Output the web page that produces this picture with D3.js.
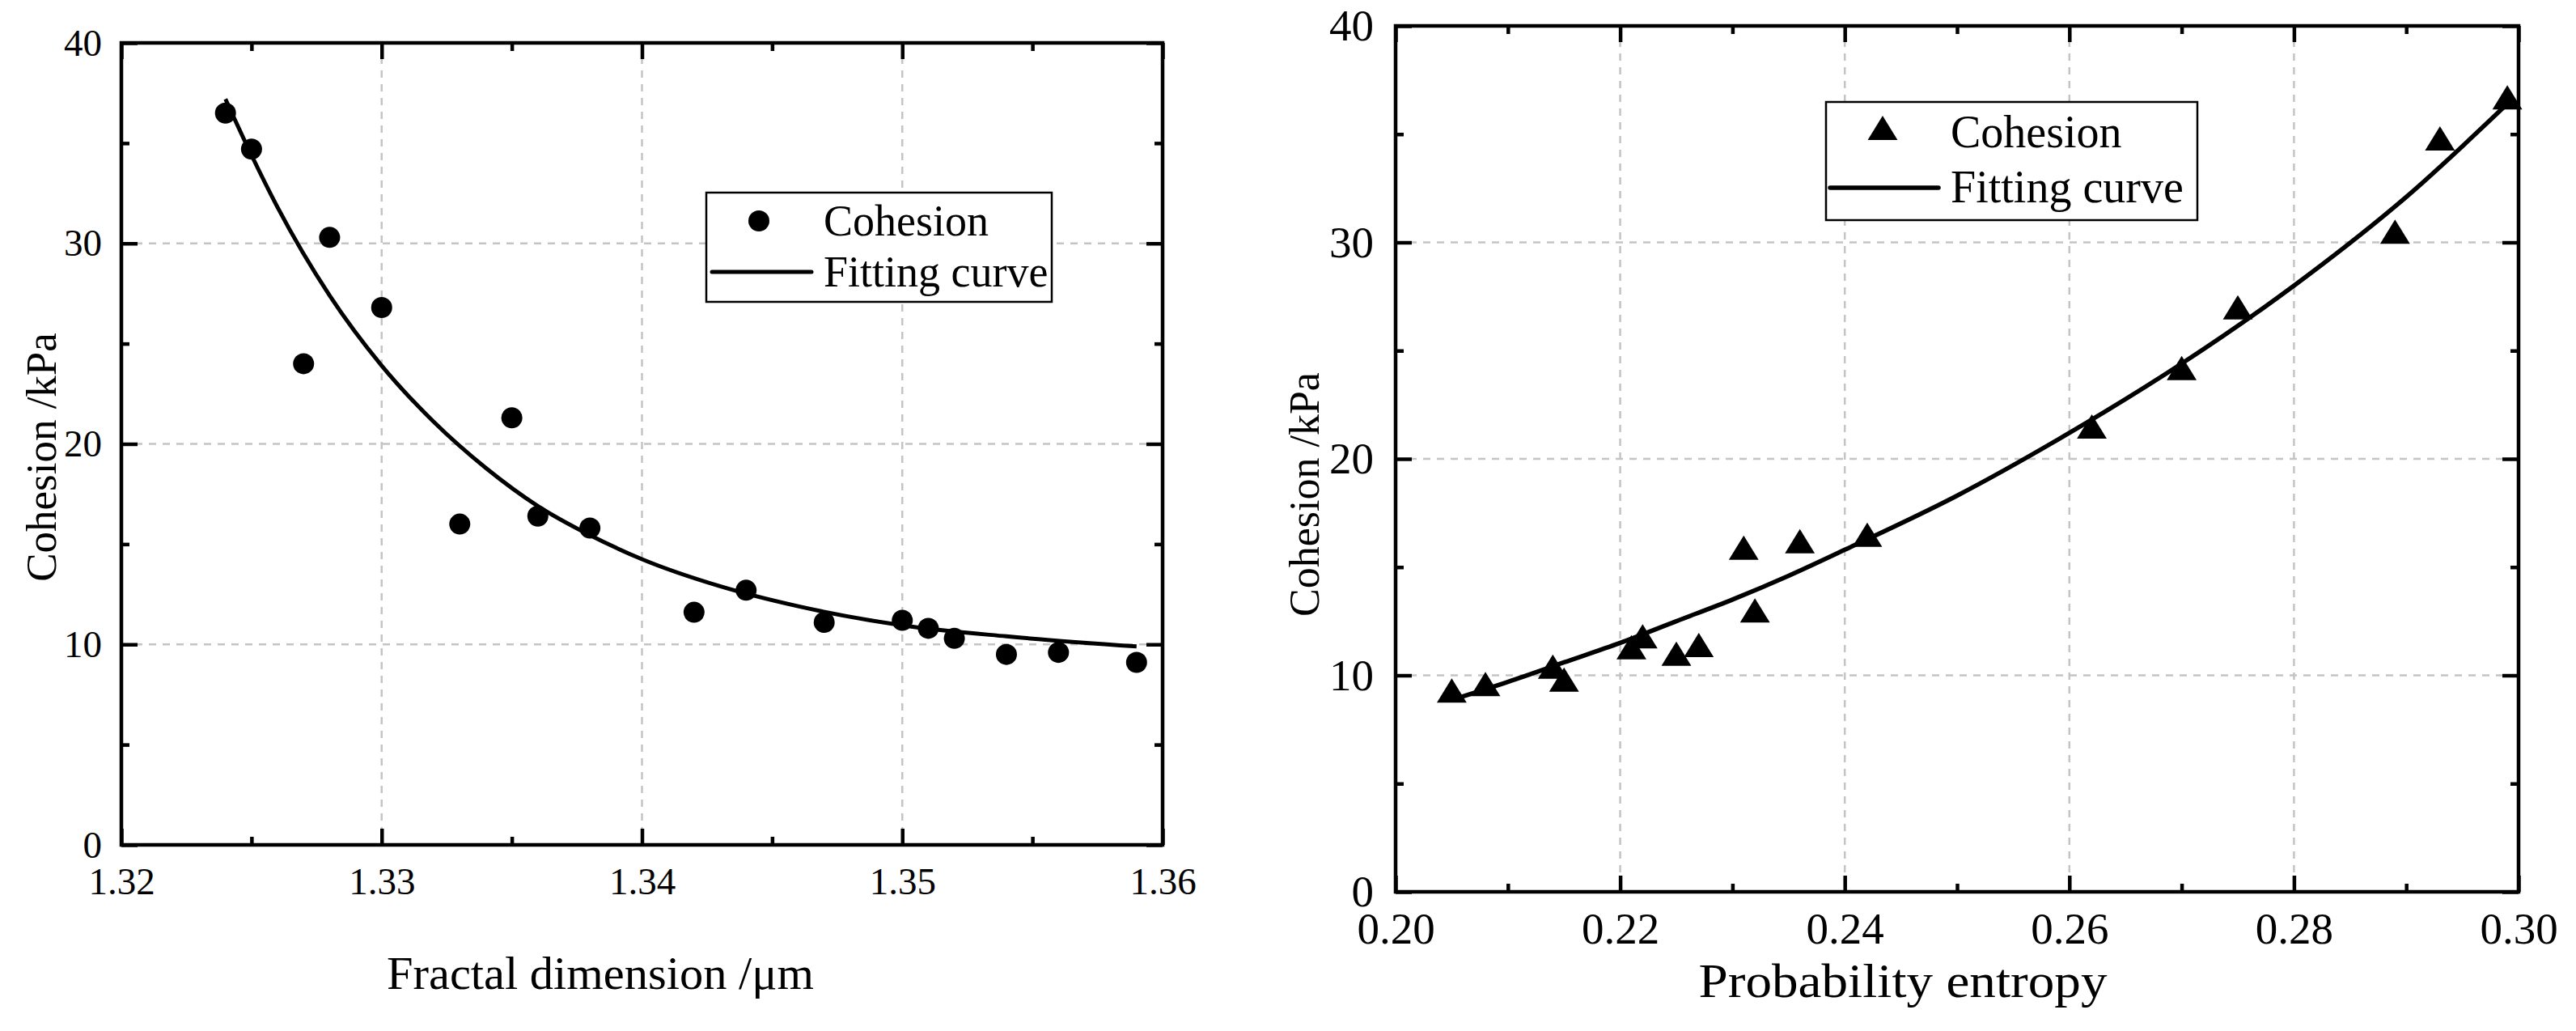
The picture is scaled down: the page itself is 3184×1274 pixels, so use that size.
<!DOCTYPE html>
<html>
<head>
<meta charset="utf-8">
<script src="https://cdn.jsdelivr.net/npm/d3@7"></script>
<style>
  html, body { margin: 0; padding: 0; background: #fff; }
  svg { display: block; }
  text { font-family: "Liberation Serif", "Times New Roman", serif; fill: #000; }
</style>
</head>
<body>
<svg id="chart" width="3184" height="1274"></svg>
<script>
// ---------------- DATA ----------------
// Left panel: Cohesion vs Fractal dimension
const fractalDim = [1.324, 1.325, 1.327, 1.328, 1.330, 1.333, 1.335, 1.336, 1.338,
                    1.342, 1.344, 1.347, 1.350, 1.351, 1.352, 1.354, 1.356, 1.359];
const cohesionA  = [36.5, 34.7, 24.0, 30.3, 26.8, 16.0, 21.3, 16.4, 15.8,
                    11.6, 12.7, 11.1, 11.2, 10.8, 10.3, 9.5, 9.6, 9.1];
const fitAX = [1.324, 1.325, 1.326, 1.328, 1.330, 1.332, 1.334, 1.336, 1.338, 1.340,
               1.343, 1.346, 1.350, 1.354, 1.359];
const fitAY = [37.2, 34.4, 31.8, 27.4, 23.9, 21.1, 18.8, 16.9, 15.45, 14.25,
               12.9, 11.9, 10.95, 10.4, 9.9];
const xTicksA = [1.32, 1.33, 1.34, 1.35, 1.36];
const xTickLabelsA = ["1.32", "1.33", "1.34", "1.35", "1.36"];
const xMinorA = [1.325, 1.335, 1.345, 1.355];

// Right panel: Cohesion vs Probability entropy
const probEntropy = [0.205, 0.208, 0.214, 0.215, 0.221, 0.222, 0.225, 0.227, 0.231,
                     0.232, 0.236, 0.242, 0.262, 0.270, 0.275, 0.289, 0.293, 0.299];
const cohesionB   = [9.3, 9.6, 10.4, 9.8, 11.3, 11.8, 11.0, 11.4, 15.9,
                     13.0, 16.2, 16.5, 21.5, 24.2, 27.0, 30.5, 34.8, 36.7];
const fitBX = [0.2052, 0.210, 0.215, 0.220, 0.225, 0.230, 0.235, 0.240, 0.250,
               0.260, 0.270, 0.280, 0.290, 0.299];
const fitBY = [8.9, 9.7, 10.6, 11.5, 12.5, 13.5, 14.6, 15.8, 18.3,
               21.2, 24.4, 28.0, 32.1, 36.4];
const xTicksB = [0.20, 0.22, 0.24, 0.26, 0.28, 0.30];
const xTickLabelsB = ["0.20", "0.22", "0.24", "0.26", "0.28", "0.30"];
const xMinorB = [0.21, 0.23, 0.25, 0.27, 0.29];

const yTicks = [0, 10, 20, 30, 40];
const yTickLabels = ["0", "10", "20", "30", "40"];
const yMinor = [5, 15, 25, 35];

const seriesName = "Cohesion";
const fitName = "Fitting curve";

// ---------------- DRAW ----------------
const SERIF = '"Liberation Serif", "Times New Roman", serif';
const svg = d3.select("#chart");

// custom triangle symbol (wider than tall, like the reference marker)
const wideTriangle = {
  draw(ctx, size) {
    const w = Math.sqrt(size) * 1.23, h = Math.sqrt(size);
    ctx.moveTo(0, -h / 2);
    ctx.lineTo(w / 2, h / 2);
    ctx.lineTo(-w / 2, h / 2);
    ctx.closePath();
  }
};

function panel(cfg) {
  const g = svg.append("g");
  const x = d3.scaleLinear().domain(cfg.xDomain).range([cfg.left, cfg.right]);
  const y = d3.scaleLinear().domain([0, 40]).range([cfg.bottom, cfg.top]);

  // grid
  const grid = g.append("g").attr("stroke", "#c4c4c4").attr("stroke-width", 2.5)
    .attr("stroke-dasharray", "9,8");
  grid.selectAll(".gx").data(cfg.xTicks.slice(1, -1)).join("line")
    .attr("x1", d => x(d)).attr("x2", d => x(d))
    .attr("y1", cfg.top).attr("y2", cfg.bottom);
  grid.selectAll(".gy").data(yTicks.slice(1, -1)).join("line")
    .attr("x1", cfg.left).attr("x2", cfg.right)
    .attr("y1", d => y(d)).attr("y2", d => y(d));

  // axes (ticks inward on all four sides)
  const tw = cfg.axisWidth;
  function styleAxis(sel) {
    sel.attr("font-family", SERIF).attr("font-size", cfg.tickFont);
    sel.select(".domain").remove();
    sel.selectAll(".tick line").attr("stroke", "#000").attr("stroke-width", tw);
    sel.selectAll(".tick text")
      .attr("font-family", SERIF)
      .style("font-family", SERIF)
      .style("font-size", cfg.tickFont + "px");
  }
  const fmtX = (d) => cfg.xTickLabels[cfg.xTicks.indexOf(d)];
  const fmtY = (d) => yTickLabels[yTicks.indexOf(d)];

  g.append("g").attr("transform", `translate(0,${cfg.bottom})`)
    .call(d3.axisBottom(x).tickValues(cfg.xTicks).tickFormat(fmtX)
      .tickSizeInner(-cfg.major).tickSizeOuter(0).tickPadding(cfg.xPad))
    .call(styleAxis);
  g.append("g").attr("transform", `translate(0,${cfg.bottom})`)
    .call(d3.axisBottom(x).tickValues(cfg.xMinor).tickFormat("")
      .tickSizeInner(-cfg.minor).tickSizeOuter(0))
    .call(styleAxis);
  g.append("g").attr("transform", `translate(0,${cfg.top})`)
    .call(d3.axisTop(x).tickValues(cfg.xTicks).tickFormat("")
      .tickSizeInner(-cfg.major).tickSizeOuter(0))
    .call(styleAxis);
  g.append("g").attr("transform", `translate(0,${cfg.top})`)
    .call(d3.axisTop(x).tickValues(cfg.xMinor).tickFormat("")
      .tickSizeInner(-cfg.minor).tickSizeOuter(0))
    .call(styleAxis);
  g.append("g").attr("transform", `translate(${cfg.left},0)`)
    .call(d3.axisLeft(y).tickValues(yTicks).tickFormat(fmtY)
      .tickSizeInner(-cfg.major).tickSizeOuter(0).tickPadding(cfg.yPad))
    .call(styleAxis);
  g.append("g").attr("transform", `translate(${cfg.left},0)`)
    .call(d3.axisLeft(y).tickValues(yMinor).tickFormat("")
      .tickSizeInner(-cfg.minor).tickSizeOuter(0))
    .call(styleAxis);
  g.append("g").attr("transform", `translate(${cfg.right},0)`)
    .call(d3.axisRight(y).tickValues(yTicks).tickFormat("")
      .tickSizeInner(-cfg.major).tickSizeOuter(0))
    .call(styleAxis);
  g.append("g").attr("transform", `translate(${cfg.right},0)`)
    .call(d3.axisRight(y).tickValues(yMinor).tickFormat("")
      .tickSizeInner(-cfg.minor).tickSizeOuter(0))
    .call(styleAxis);

  // frame
  g.append("rect").attr("x", cfg.left).attr("y", cfg.top)
    .attr("width", cfg.right - cfg.left).attr("height", cfg.bottom - cfg.top)
    .attr("fill", "none").attr("stroke", "#000").attr("stroke-width", tw)
    .attr("stroke-linejoin", "miter");

  // fitting curve
  const fitPts = cfg.fitX.map((d, i) => [d, cfg.fitY[i]]);
  g.append("path").datum(fitPts)
    .attr("fill", "none").attr("stroke", "#000").attr("stroke-width", cfg.lineWidth)
    .attr("stroke-linejoin", "round")
    .attr("d", d3.line().x(d => x(d[0])).y(d => y(d[1])).curve(d3.curveMonotoneX));

  // points
  const pts = cfg.xs.map((d, i) => [d, cfg.ys[i]]);
  if (cfg.marker === "circle") {
    g.selectAll(".pt").data(pts).join("circle")
      .attr("cx", d => x(d[0])).attr("cy", d => y(d[1])).attr("r", cfg.markerSize)
      .attr("fill", "#000");
  } else {
    const sym = d3.symbol().type(wideTriangle).size(cfg.markerSize * cfg.markerSize);
    g.selectAll(".pt").data(pts).join("path")
      .attr("transform", d => `translate(${x(d[0])},${y(d[1])})`)
      .attr("d", sym).attr("fill", "#000");
  }

  // legend
  const L = cfg.legend;
  const lg = g.append("g");
  lg.append("rect").attr("x", L.x0).attr("y", L.y0)
    .attr("width", L.x1 - L.x0).attr("height", L.y1 - L.y0)
    .attr("fill", "#fff").attr("stroke", "#000").attr("stroke-width", 2.5);
  if (cfg.marker === "circle") {
    lg.append("circle").attr("cx", L.mx).attr("cy", L.my).attr("r", cfg.markerSize).attr("fill", "#000");
  } else {
    lg.append("path").attr("transform", `translate(${L.mx},${L.my})`)
      .attr("d", d3.symbol().type(wideTriangle).size(cfg.markerSize * cfg.markerSize)())
      .attr("fill", "#000");
  }
  lg.append("line").attr("x1", L.lx0).attr("x2", L.lx1).attr("y1", L.ly).attr("y2", L.ly)
    .attr("stroke", "#000").attr("stroke-width", cfg.lineWidth).attr("stroke-linecap", "round");
  lg.append("text").attr("x", L.tx).attr("y", L.b1).style("font-size", L.font + "px").text(seriesName);
  lg.append("text").attr("x", L.tx).attr("y", L.b2).style("font-size", L.font + "px").text(fitName);

  // axis titles
  const xt = g.append("text").attr("x", cfg.xTitle.x).attr("y", cfg.xTitle.y)
    .attr("text-anchor", "middle").style("font-size", cfg.xTitle.font + "px").text(cfg.xTitle.text);
  if (cfg.xTitle.len) xt.attr("textLength", cfg.xTitle.len).attr("lengthAdjust", "spacingAndGlyphs");
  g.append("text")
    .attr("transform", `translate(${cfg.yTitle.x},${cfg.yTitle.y}) rotate(-90)`)
    .attr("text-anchor", "middle").style("font-size", cfg.yTitle.font + "px").text(cfg.yTitle.text);
}

panel({
  xDomain: [1.32, 1.36], left: 150, right: 1437, top: 53, bottom: 1044,
  xTicks: xTicksA, xTickLabels: xTickLabelsA, xMinor: xMinorA,
  xs: fractalDim, ys: cohesionA, fitX: fitAX, fitY: fitAY,
  axisWidth: 4.5, major: 20, minor: 10, tickFont: 47, xPad: 28, yPad: 24,
  lineWidth: 5, marker: "circle", markerSize: 13,
  legend: { x0: 873, x1: 1300, y0: 238, y1: 373, mx: 938, my: 273,
            lx0: 880, lx1: 1003, ly: 336, tx: 1018, b1: 291, b2: 354, font: 54 },
  xTitle: { x: 742, y: 1222, font: 57, len: 528, text: "Fractal dimension /\u03bcm" },
  yTitle: { x: 69, y: 565, font: 53, text: "Cohesion /kPa" }
});

panel({
  xDomain: [0.20, 0.30], left: 1725, right: 3113, top: 32, bottom: 1102,
  xTicks: xTicksB, xTickLabels: xTickLabelsB, xMinor: xMinorB,
  xs: probEntropy, ys: cohesionB, fitX: fitBX, fitY: fitBY,
  axisWidth: 4.5, major: 20, minor: 10, tickFont: 55, xPad: 25, yPad: 27,
  lineWidth: 5.5, marker: "triangle", markerSize: 30,
  legend: { x0: 2257, x1: 2716, y0: 126, y1: 272, mx: 2327, my: 158,
            lx0: 2262, lx1: 2396, ly: 232, tx: 2411, b1: 182, b2: 250, font: 56 },
  xTitle: { x: 2352, y: 1232, font: 59, len: 505, text: "Probability entropy" },
  yTitle: { x: 1630, y: 611, font: 52, text: "Cohesion /kPa" }
});
</script>
</body>
</html>
